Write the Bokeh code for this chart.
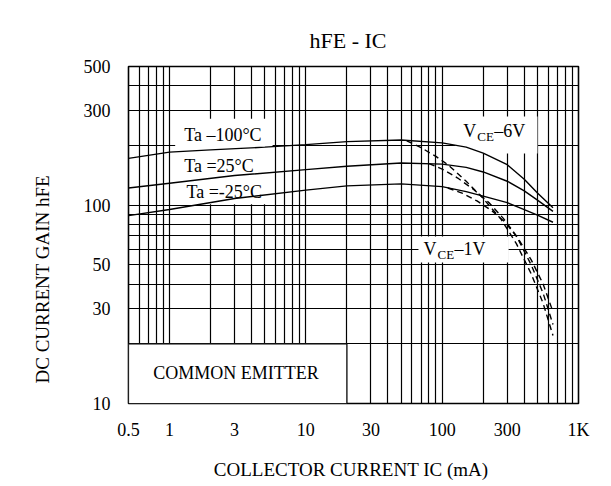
from bokeh.plotting import figure
from bokeh.models import FixedTicker, Title
from bokeh.core.properties import value
from bokeh.embed import file_html
from bokeh.resources import INLINE

# ---- data ----
x_ticks = [0.5, 1, 3, 10, 30, 100, 300, 1000]
x_tick_labels = ["0.5", "1", "3", "10", "30", "100", "300", "1K"]
y_ticks = [10, 30, 50, 100, 300, 500]
y_tick_labels = ["10", "30", "50", "100", "300", "500"]
x_grid = [0.6, 0.7, 0.8, 0.9, 1, 2, 3, 4, 5, 6, 7, 8, 9, 10, 20, 30, 40, 50, 60, 70, 80, 90,
          100, 200, 300, 400, 500, 600, 700, 800, 900]
y_grid = [20, 30, 40, 50, 60, 70, 80, 90, 100, 200, 300, 400]

ic_6v_100 = [0.5, 1, 2, 5, 10, 20, 50, 100, 150, 200, 300, 400, 500, 650]
hfe_6v_100 = [172, 185, 190, 196, 202, 209, 213, 206, 196, 183, 160, 135, 115, 97]
ic_6v_25 = [0.5, 1, 3, 10, 20, 50, 100, 150, 200, 300, 400, 500, 650]
hfe_6v_25 = [122, 129, 141, 151, 157, 163, 161, 155, 147, 132, 118, 106, 93]
ic_6v_m25 = [0.5, 1, 3, 10, 20, 50, 100, 150, 200, 300, 400, 500, 650]
hfe_6v_m25 = [88.6, 95, 108, 119, 125, 128, 124, 117, 111, 103, 95, 89, 82]

ic_1v_100 = [55, 70, 90, 110, 150, 200, 270, 350, 450, 550, 650]
hfe_1v_100 = [211, 195, 176, 160, 132, 108, 85, 64, 45, 32, 22]
ic_1v_25 = [80, 100, 130, 170, 220, 280, 350, 450, 550, 650]
hfe_1v_25 = [162, 152, 137, 120, 103, 86, 70, 50, 36, 25]
ic_1v_m25 = [110, 140, 180, 230, 290, 360, 450, 550, 650]
hfe_1v_m25 = [122, 115, 105, 94, 82, 68, 53, 40, 29]

title_text = "hFE  -  IC"
x_title = "COLLECTOR CURRENT IC  (mA)"
y_title = "DC CURRENT GAIN hFE"

FONT = "Liberation Serif"

p = figure(width=603, height=478, x_axis_type="log", y_axis_type="log",
           x_range=(0.5, 1000), y_range=(10, 500),
           output_backend="svg", toolbar_location=None,
           min_border_left=128, min_border_right=25, min_border_top=66, min_border_bottom=75,
           frame_width=450, frame_height=337)
p.background_fill_color = "white"
p.border_fill_color = "white"
p.outline_line_color = "black"
p.outline_line_width = 1.6

p.title.text = title_text
p.title.align = "center"
p.title.text_font = FONT
p.title.text_font_size = "22px"
p.title.text_font_style = "normal"
p.title.text_color = "black"
p.title.standoff = 28

for ax, ticks, labels in ((p.xaxis, x_ticks, x_tick_labels), (p.yaxis, y_ticks, y_tick_labels)):
    ax.ticker = FixedTicker(ticks=ticks, minor_ticks=[])
    ax.major_label_overrides = {t: l for t, l in zip(ticks, labels)}
    ax.axis_line_color = None
    ax.major_tick_line_color = None
    ax.minor_tick_line_color = None
    ax.major_label_text_font = FONT
    ax.major_label_text_font_size = "18px"
    ax.major_label_text_color = "black"
p.xaxis.major_label_standoff = 10
p.yaxis.major_label_standoff = 12

p.xaxis.axis_label = x_title
p.xaxis.axis_label_text_font = FONT
p.xaxis.axis_label_text_font_size = "19px"
p.xaxis.axis_label_text_font_style = "normal"
p.xaxis.axis_label_text_color = "black"
p.xaxis.axis_label_standoff = 16

p.add_layout(Title(text=y_title, align="left", offset=20, text_font=FONT,
                   text_font_size="19px", text_font_style="normal",
                   text_color="black", standoff=55), "left")

p.xgrid.ticker = FixedTicker(ticks=x_grid, minor_ticks=[])
p.ygrid.ticker = FixedTicker(ticks=y_grid, minor_ticks=[])
for g in (p.xgrid, p.ygrid):
    g.grid_line_color = "black"
    g.grid_line_width = 1.2
    g.grid_line_alpha = 1.0

# white boxes behind labels
p.quad(left=[0.5], right=[20], bottom=[10], top=[20], fill_color="white",
       line_color="black", line_width=1.2)
p.quad(left=[1.1], right=[5.7], bottom=[101], top=[273], fill_color="white", line_color=None)
p.quad(left=[125], right=[500], bottom=[182], top=[280], fill_color="white", line_color=None)
p.quad(left=[67], right=[307], bottom=[51.4], top=[69.4], fill_color="white", line_color=None)

# curves
for xs, ys in ((ic_6v_100, hfe_6v_100), (ic_6v_25, hfe_6v_25), (ic_6v_m25, hfe_6v_m25)):
    p.line(xs, ys, line_color="black", line_width=1.4)
for xs, ys in ((ic_1v_100, hfe_1v_100), (ic_1v_25, hfe_1v_25), (ic_1v_m25, hfe_1v_m25)):
    p.line(xs, ys, line_color="black", line_width=1.4, line_dash="6 4")

def txt(x, y, s, size="18px", dx=0, dy=0):
    p.text(x=[x], y=[y], text=[s], text_font=value(FONT), text_font_size=size,
           text_align="left", text_baseline="middle", text_color="black",
           x_offset=dx, y_offset=dy)

txt(1.28, 226, "Ta \u2013100\u00b0C")
txt(1.28, 158, "Ta =25\u00b0C")
txt(1.33, 116, "Ta =-25\u00b0C")
txt(0.76, 14.2, "COMMON EMITTER")
# V_CE labels
txt(143, 236, "V")
txt(143, 236, "CE", size="13px", dx=14, dy=5)
txt(143, 236, "\u20136V", dx=31)
txt(73, 60, "V")
txt(73, 60, "CE", size="13px", dx=14, dy=5)
txt(73, 60, "\u20131V", dx=31)

open("out.html", "w").write(file_html(p, INLINE))
